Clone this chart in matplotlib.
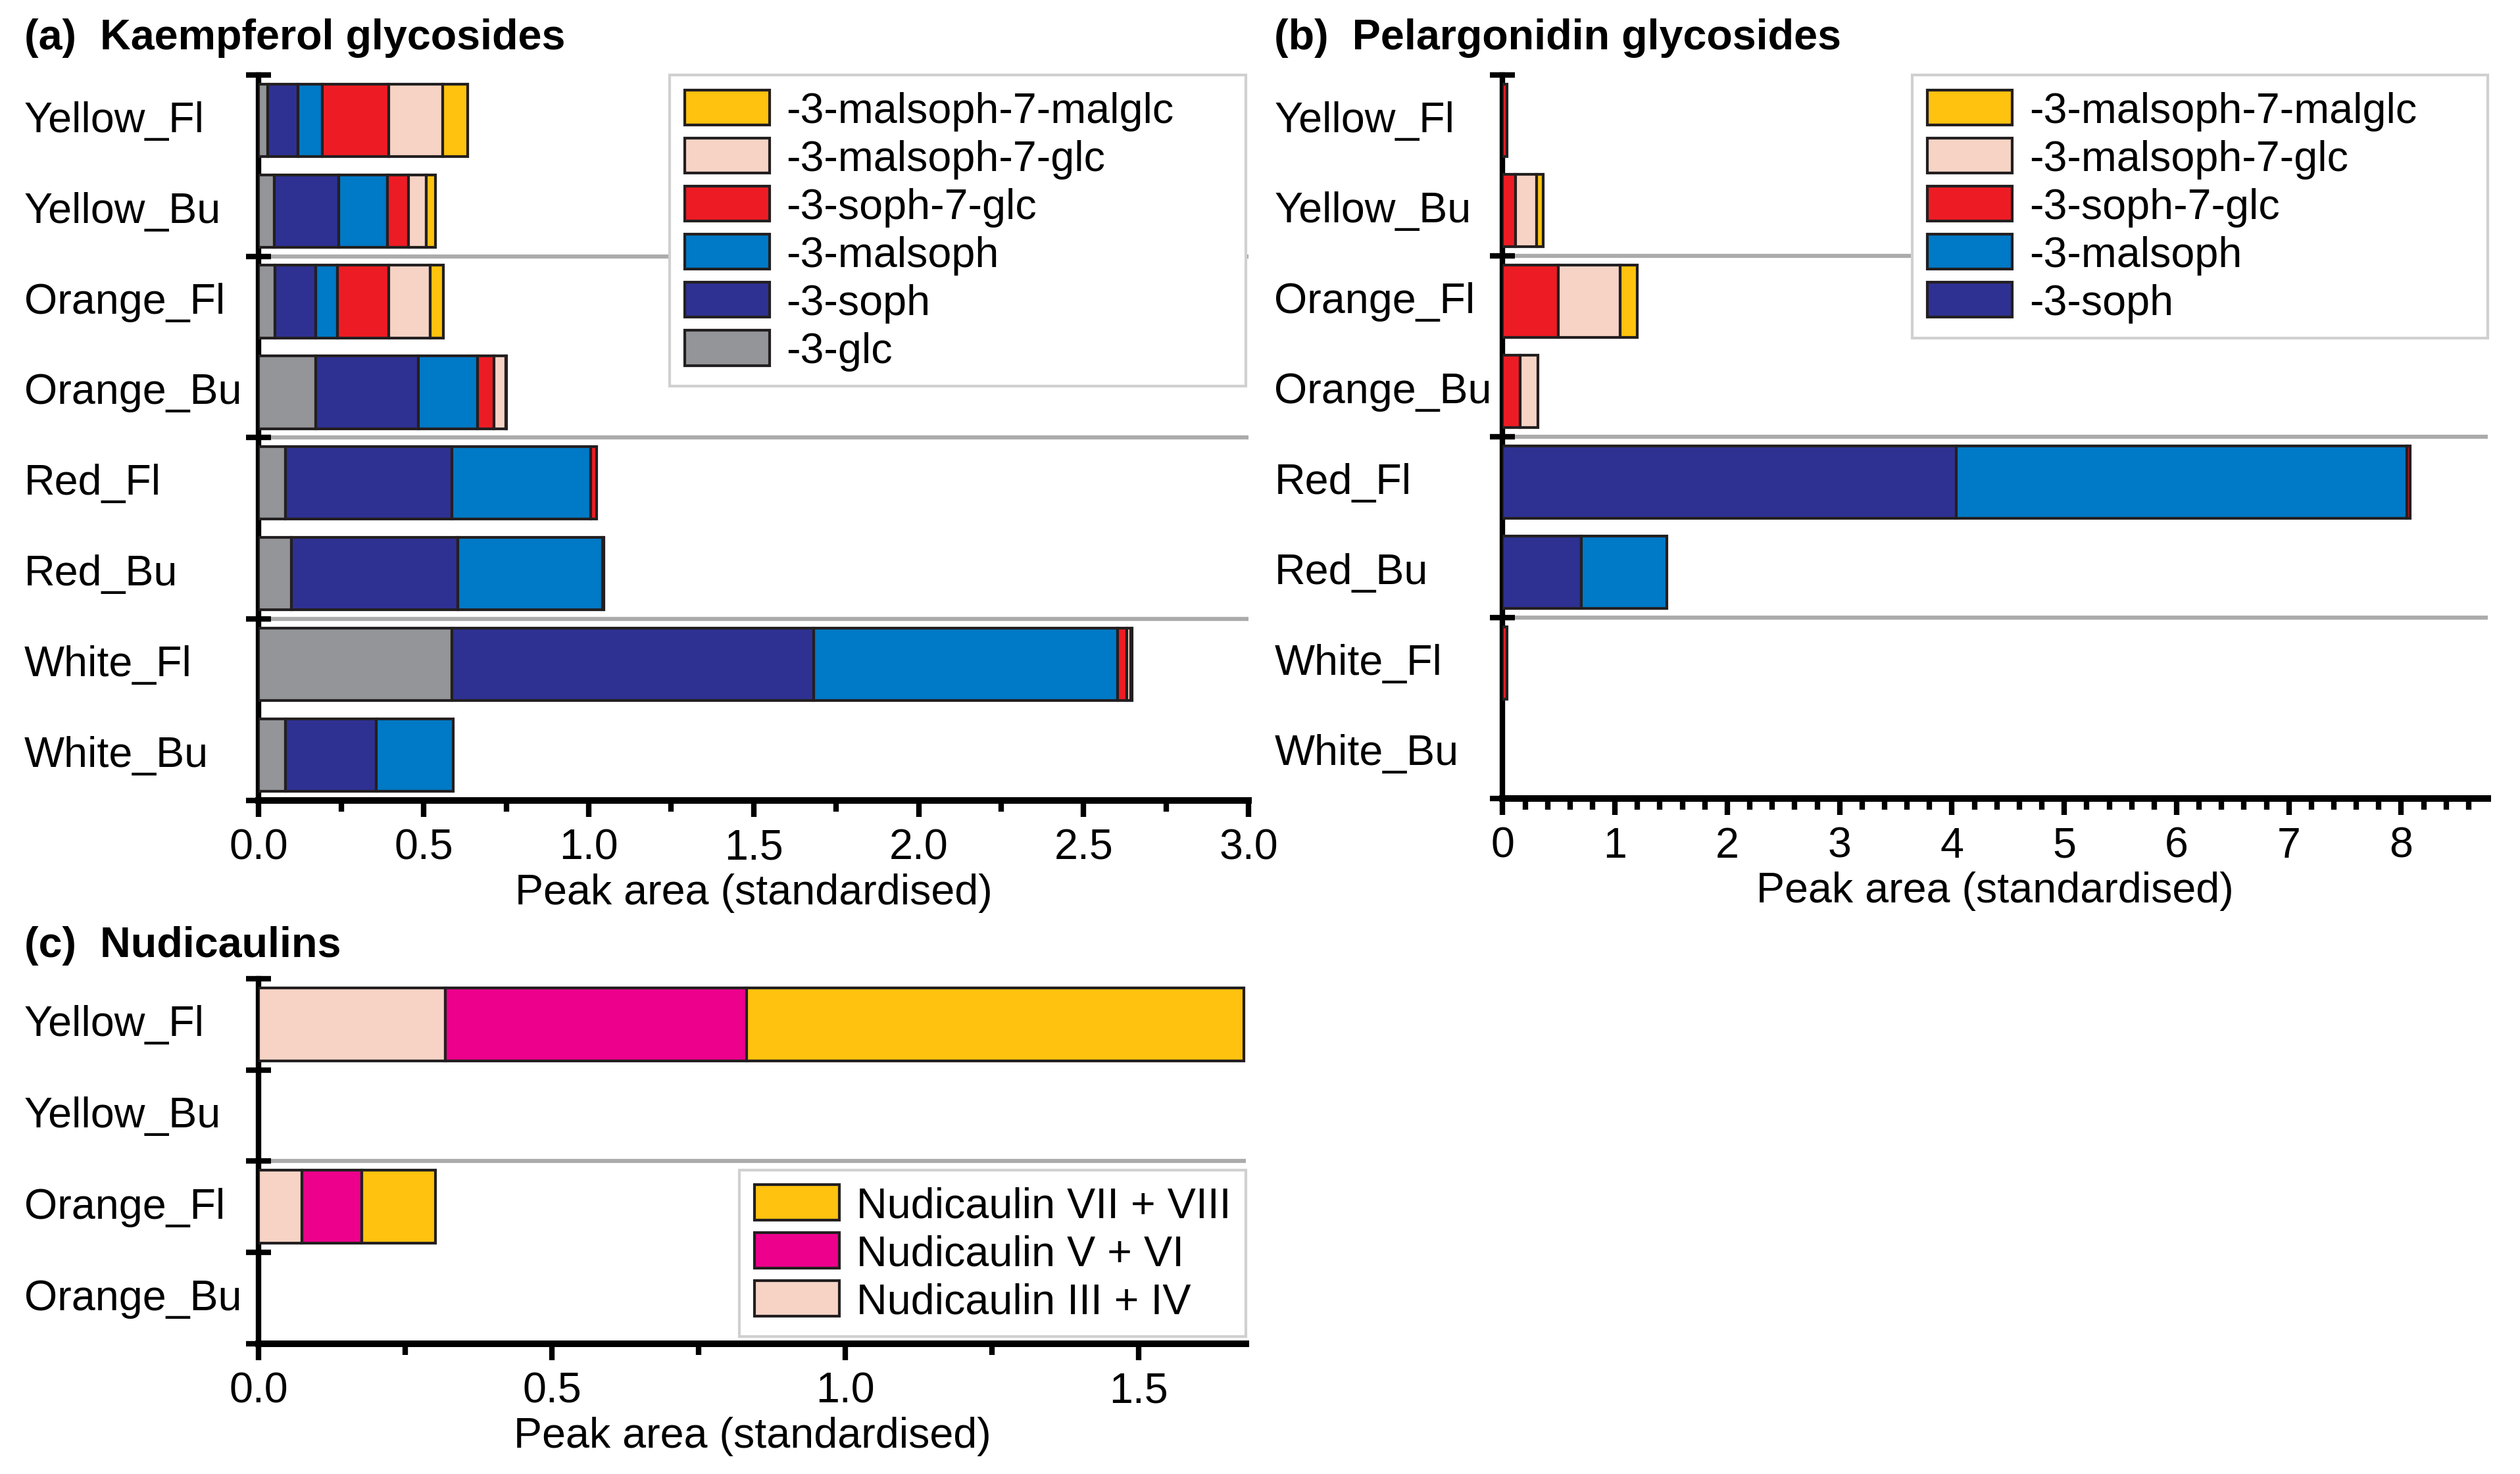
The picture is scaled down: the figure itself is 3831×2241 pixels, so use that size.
import numpy as np
import matplotlib.pyplot as plt
from matplotlib.ticker import MultipleLocator
from matplotlib.transforms import blended_transform_factory

plt.rcParams['font.family'] = ['Liberation Sans', 'DejaVu Sans']
plt.rcParams['font.size'] = 15.5

# sample names (rows, top to bottom)
samples = ['Yellow_Fl', 'Yellow_Bu', 'Orange_Fl', 'Orange_Bu',
           'Red_Fl', 'Red_Bu', 'White_Fl', 'White_Bu']
nudi_samples = ['Yellow_Fl', 'Yellow_Bu', 'Orange_Fl', 'Orange_Bu']

# (a) kaempferol glycosides, stacking order left -> right
kae_glc = [0.027, 0.046, 0.049, 0.172, 0.080, 0.098, 0.585, 0.080]
kae_soph = [0.092, 0.197, 0.124, 0.311, 0.506, 0.506, 1.096, 0.275]
kae_malsoph = [0.074, 0.147, 0.065, 0.179, 0.419, 0.437, 0.921, 0.235]
kae_soph7glc = [0.201, 0.064, 0.156, 0.050, 0.018, 0.005, 0.029, 0.0]
kae_malsoph7glc = [0.164, 0.053, 0.126, 0.036, 0.0, 0.0, 0.012, 0.0]
kae_malsoph7malglc = [0.075, 0.029, 0.040, 0.003, 0.0, 0.0, 0.004, 0.0]

# (b) pelargonidin glycosides
pel_soph = [0.0, 0.0, 0.0, 0.0, 4.04, 0.70, 0.0, 0.0]
pel_malsoph = [0.0, 0.0, 0.0, 0.0, 4.01, 0.76, 0.0, 0.0]
pel_soph7glc = [0.04, 0.117, 0.497, 0.156, 0.03, 0.0, 0.04, 0.0]
pel_malsoph7glc = [0.0, 0.185, 0.546, 0.156, 0.0, 0.0, 0.0, 0.0]
pel_malsoph7malglc = [0.0, 0.058, 0.156, 0.0, 0.0, 0.0, 0.0, 0.0]

# (c) nudicaulins
nud_3_4 = [0.318, 0.0, 0.074, 0.0]
nud_5_6 = [0.514, 0.0, 0.102, 0.0]
nud_7_8 = [0.848, 0.0, 0.125, 0.0]

kae_labels = ['-3-glc', '-3-soph', '-3-malsoph', '-3-soph-7-glc',
              '-3-malsoph-7-glc', '-3-malsoph-7-malglc']
pel_labels = kae_labels[1:]
nud_labels = ['Nudicaulin III + IV', 'Nudicaulin V + VI', 'Nudicaulin VII + VIII']

GREY = '#939598'
NAVY = '#2e3192'
BLUE = '#0079c6'
RED = '#ed1c24'
PALE = '#f6d3c5'
GOLD = '#ffc20e'
MAGENTA = '#ec008c'


def stacked(ax, series, colors, labels):
    y = np.arange(len(series[0]))
    left = np.zeros(len(y))
    handles = []
    for vals, c, lab in zip(series, colors, labels):
        vals = np.asarray(vals, dtype=float)
        m = vals > 0
        h = ax.barh(y[m], vals[m], left=left[m], height=0.8, color=c,
                    edgecolor='#231f20', linewidth=1.0, label=lab, zorder=3)
        handles.append(h)
        left += vals
    return handles


def style(ax, names, xmax, major, minor, yticks, seps, label_x):
    n = len(names)
    ax.set_xlim(0, xmax)
    ax.set_ylim(n - 0.5, -0.5)
    ax.spines[['top', 'right']].set_visible(False)
    ax.spines['left'].set_linewidth(2.0)
    ax.spines['bottom'].set_linewidth(2.4)
    ax.xaxis.set_major_locator(MultipleLocator(major))
    ax.xaxis.set_minor_locator(MultipleLocator(minor))
    ax.tick_params(axis='x', which='major', length=6, width=2, pad=4)
    ax.tick_params(axis='x', which='minor', length=4, width=2)
    ax.set_yticks(yticks)
    ax.set_yticklabels([])
    ax.tick_params(axis='y', direction='inout', length=9, width=2)
    for s in seps:
        ax.axhline(s, color='#ababab', lw=1.5, zorder=1)
    ax.set_xlabel('Peak area (standardised)', labelpad=2)
    tr = blended_transform_factory(fig.transFigure, ax.transData)
    for i, name in enumerate(names):
        ax.text(label_x, i, name, transform=tr, ha='left', va='center')


fig = plt.figure(figsize=(12.77, 7.4733), dpi=300)
ax_a = fig.add_axes([0.1027, 0.4569, 0.3928, 0.4918])
ax_b = fig.add_axes([0.5963, 0.4580, 0.3909, 0.4907])
ax_c = fig.add_axes([0.1027, 0.0883, 0.3916, 0.2476])

leg_kw = dict(frameon=True, fancybox=False, edgecolor='#d0d0d0', framealpha=1,
              handlelength=2.0, handleheight=0.9, handletextpad=0.4,
              labelspacing=0.17, borderpad=0.35, borderaxespad=0)

# (a)
h = stacked(ax_a, [kae_glc, kae_soph, kae_malsoph, kae_soph7glc,
                   kae_malsoph7glc, kae_malsoph7malglc],
            [GREY, NAVY, BLUE, RED, PALE, GOLD], kae_labels)
style(ax_a, samples, 3.0, 0.5, 0.25, [-0.5, 1.5, 3.5, 5.5, 7.5],
      [1.5, 3.5, 5.5], 0.0096)
ax_a.legend(h[::-1], kae_labels[::-1], loc='upper left', mode='expand',
            bbox_to_anchor=(0.415, 0.0, 0.582, 1.0), **leg_kw)

# (b)
h = stacked(ax_b, [pel_soph, pel_malsoph, pel_soph7glc, pel_malsoph7glc,
                   pel_malsoph7malglc],
            [NAVY, BLUE, RED, PALE, GOLD], pel_labels)
style(ax_b, samples, 8.77, 1, 0.2, [-0.5, 1.5, 3.5, 5.5, 7.5],
      [1.5, 3.5, 5.5], 0.5057)
ax_b.legend(h[::-1], pel_labels[::-1], loc='upper left', mode='expand',
            bbox_to_anchor=(0.416, 0.0, 0.584, 1.0), **leg_kw)

# (c)
h = stacked(ax_c, [nud_3_4, nud_5_6, nud_7_8], [PALE, MAGENTA, GOLD], nud_labels)
style(ax_c, nudi_samples, 1.683, 0.5, 0.25, [-0.5, 0.5, 1.5, 2.5, 3.5],
      [1.5], 0.0096)
ax_c.legend(h[::-1], nud_labels[::-1], loc='lower right',
            bbox_to_anchor=(1.0, 0.02), **leg_kw)

fig.text(0.0096, 0.974, '(a)  Kaempferol glycosides', weight='bold', va='center')
fig.text(0.5057, 0.974, '(b)  Pelargonidin glycosides', weight='bold', va='center')
fig.text(0.0096, 0.3588, '(c)  Nudicaulins', weight='bold', va='center')

fig.savefig('out.png', dpi=300)
